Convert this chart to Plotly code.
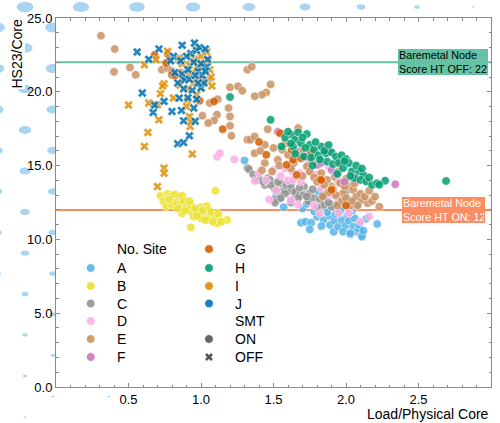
import plotly.graph_objects as go

# ---------------- data ----------------
sites = ["A", "B", "C", "D", "E", "F", "G", "H", "I", "J"]
site_colors = ["#56b4e9", "#ece133", "#949494", "#fbafe4", "#ca9161",
               "#cc78bc", "#d55e00", "#029e73", "#de8f05", "#0173b2"]
site_smt = ["ON", "ON", "ON", "ON", "ON", "ON", "ON", "ON", "OFF", "OFF"]
smt_levels = ["ON", "OFF"]
smt_symbols = {"ON": "circle", "OFF": "x"}

a_x = [1.30, 1.54, 1.57, 1.52, 1.62, 1.81, 1.86, 2.065, 2.08, 1.95, 1.99,
       1.69, 1.72, 1.76, 1.75, 1.80, 1.845, 1.885, 1.89, 1.915, 1.92, 1.945,
       1.93, 1.97, 1.995, 1.98, 2.01, 2.02, 2.03, 2.05, 2.075, 2.09, 2.11,
       2.06, 2.215, 1.83, 2.11, 2.03, 2.09, 2.12, 1.87, 1.96, 2.04, 1.78,
       1.70, 2.14, 1.90, 2.00, 1.60, 1.73]
a_y = [15.34, 12.76, 12.18, 13.0, 12.6, 13.24, 13.0, 12.67, 12.35, 12.5, 12.2,
       11.13, 11.2, 11.13, 10.68, 11.54, 11.31, 11.59, 10.98, 10.52, 11.27, 10.86,
       11.7, 11.32, 10.91, 10.52, 11.66, 11.27, 10.35, 10.86, 10.52, 10.68, 10.3,
       11.43, 11.05, 10.9, 10.18, 10.41, 11.0, 10.6, 11.85, 11.95, 11.9, 11.9,
       12.1, 11.4, 12.35, 12.9, 13.3, 12.4]

b_x = [0.72, 0.77, 0.80, 0.82, 0.85, 0.87, 0.74, 0.76, 0.80, 0.83, 0.86, 0.88,
       0.90, 0.91, 0.94, 0.98, 1.00, 1.04, 1.02, 1.06, 1.09, 1.115, 1.11, 1.08,
       1.18, 0.93, 0.87, 0.95, 1.00, 0.84, 0.93, 0.96, 1.05, 1.07, 1.12, 1.03,
       0.97, 0.89, 1.10, 0.78, 0.92, 1.14, 1.01]
b_y = [12.95, 13.08, 12.95, 13.05, 12.9, 12.95, 12.6, 12.22, 12.33, 12.5, 12.4, 12.6,
       12.22, 12.0, 11.77, 11.88, 12.18, 12.27, 11.66, 11.54, 11.66, 11.43, 11.09, 11.2,
       11.32, 10.82, 11.77, 11.54, 11.43, 12.1, 12.3, 12.1, 12.0, 11.85, 11.75, 11.3,
       11.6, 11.95, 13.3, 12.7, 12.6, 11.2, 11.95]

c_x = [1.32, 1.33, 1.39, 1.40, 1.44, 1.46, 1.475, 1.51, 1.51, 1.55, 1.56, 1.59,
       1.62, 1.65, 1.65, 1.68, 1.71, 1.71, 1.74, 1.75, 1.78, 1.82, 1.82, 1.85,
       1.80, 1.90, 1.505, 1.51, 1.94, 1.36, 1.43, 1.48, 1.53, 1.58, 1.62, 1.67,
       1.73, 1.77, 1.88, 1.95, 2.00, 1.55, 1.62, 1.68, 1.84]
c_y = [14.83, 14.76, 14.03, 14.15, 13.69, 14.15, 14.03, 13.47, 13.4, 13.81, 13.24, 13.63,
       13.3, 13.08, 13.24, 13.01, 13.58, 13.01, 12.56, 13.13, 12.79, 12.72, 12.18, 12.34,
       12.18, 12.22, 12.67, 12.49, 14.03, 14.4, 13.9, 13.7, 13.9, 13.1, 13.7, 12.8,
       12.9, 13.4, 12.5, 12.6, 13.3, 12.8, 12.5, 13.5, 13.0]

d_x = [1.11, 1.13, 1.23, 1.37, 1.40, 1.45, 1.50, 1.55, 1.58, 1.60, 1.62, 1.635,
       1.68, 1.67, 1.69, 1.75, 1.78, 1.80, 1.83, 1.82, 1.88, 1.90, 1.95, 1.95,
       1.98, 2.02, 2.05, 2.10, 2.12, 2.16, 1.52, 1.47, 1.63, 1.74, 1.93, 2.02]
d_y = [15.6, 15.84, 15.43, 13.96, 14.5, 14.0, 14.71, 14.3, 14.8, 14.0, 12.67, 14.03,
       14.5, 12.34, 13.92, 14.6, 12.3, 14.4, 13.5, 11.77, 14.9, 13.0, 13.9, 11.77,
       12.5, 12.0, 14.0, 11.2, 12.8, 11.55, 13.3, 12.7, 14.6, 15.2, 12.9, 11.77]

e_x = [0.31, 0.405, 0.40, 0.51, 0.55, 0.73, 0.77, 0.80, 0.86, 0.88, 1.00, 1.05,
       1.20, 1.255, 1.285, 1.115, 1.06, 1.19, 1.20, 1.11, 1.09, 1.01, 1.05, 1.20,
       1.21, 1.32, 1.32, 1.35, 1.48, 1.45, 1.42, 1.37, 0.99,
       1.46, 1.67, 1.34, 1.37, 1.44, 1.37, 1.44, 1.53, 1.56, 1.60, 1.64, 1.42,
       1.49, 1.73, 1.81, 1.83, 1.92, 1.96, 2.02, 2.05, 2.07, 2.11, 2.15, 2.23,
       1.98, 1.90, 1.87, 1.75, 1.78, 1.80, 1.85, 1.88, 1.93, 1.97, 2.00, 2.03,
       2.08, 2.10, 2.13, 2.18, 2.06, 2.00, 1.95, 1.69, 1.58, 1.50, 1.62, 1.70,
       1.76, 1.66, 1.91, 1.94, 2.16, 2.20, 1.84, 1.54, 1.41, 1.99, 2.04]
e_y = [23.8, 22.9, 21.35, 21.65, 21.15, 21.5, 21.6, 21.4, 21.3, 21.0, 21.4, 20.8,
       20.3, 20.37, 20.07, 19.5, 19.24, 18.9, 18.33, 18.45, 18.06, 18.38, 17.88, 17.7,
       17.02, 16.75, 21.5, 21.7, 20.5, 19.96, 19.8, 19.7, 20.9,
       17.47, 17.54, 16.75, 16.97, 16.41, 15.84, 15.17, 15.39, 16.07, 15.73, 15.17, 14.69,
       14.6, 14.94, 15.05, 14.49, 14.26, 13.81, 13.58, 13.35, 12.9, 12.67, 12.45, 12.22,
       13.13, 13.58, 14.03, 14.6, 14.2, 13.9, 13.7, 13.2, 13.0, 12.6, 12.8, 12.3,
       12.3, 13.1, 12.9, 12.6, 13.8, 14.1, 14.6, 16.0, 16.5, 16.2, 14.8, 14.3,
       15.4, 15.7, 13.4, 12.3, 13.3, 12.9, 12.9, 15.0, 16.0, 13.6, 12.6]

f_x = [1.53, 2.34, 1.80, 1.83, 1.97, 1.72, 1.90, 1.88, 2.05, 1.65, 1.93, 1.99]
f_y = [17.3, 13.74, 15.05, 15.2, 15.27, 15.6, 14.7, 15.9, 14.2, 16.0, 14.4, 13.9]

g_x = [0.68, 0.77, 0.76, 0.80, 0.82, 0.99, 1.09, 1.15, 1.545, 1.45, 1.59,
       1.625, 1.635, 1.69, 1.66, 1.82, 1.90, 1.83, 2.00, 1.40, 1.76]
g_y = [22.5, 22.56, 21.95, 21.16, 21.1, 19.4, 19.35, 17.47, 17.2, 15.73, 15.05,
       16.07, 15.39, 15.5, 14.37, 14.03, 13.35, 14.03, 12.3, 16.6, 15.9]

h_x = [1.20, 1.48, 1.625, 1.65, 1.67, 1.73, 1.635, 1.555, 1.69, 1.75, 1.78, 1.83,
       1.65, 1.71, 1.76, 1.81, 1.86, 1.90, 1.93, 1.97, 2.00, 1.87, 1.91, 1.95,
       2.02, 1.98, 2.04, 2.09, 2.12, 2.06, 2.10, 2.14, 2.18, 2.215, 2.27, 2.69,
       1.94, 1.58, 1.70, 1.79, 1.85, 1.88, 1.62, 1.72, 1.82, 1.99, 2.07, 2.11,
       2.16, 2.03, 1.60, 1.77, 2.23]
h_y = [19.65, 18.1, 17.09, 16.75, 17.25, 17.14, 16.29, 16.29, 16.52, 16.41, 16.07, 16.29,
       15.8, 15.61, 15.55, 15.7, 15.84, 15.9, 15.61, 15.7, 15.45, 15.27, 15.1, 15.17,
       15.17, 14.83, 14.6, 14.6, 14.37, 14.15, 14.03, 13.92, 13.69, 13.81, 13.98, 13.96,
       14.44, 16.9, 16.9, 16.6, 16.0, 16.4, 16.5, 16.2, 15.4, 15.3, 15.0, 14.8,
       14.2, 14.3, 17.3, 15.0, 13.7]

i_x = [0.50, 0.634, 0.61, 0.71, 0.64, 0.70, 0.72, 0.745, 0.735, 0.69, 0.61, 0.77,
       0.81, 0.745, 0.745, 0.70, 0.907, 0.92, 0.925, 0.93, 0.94, 0.90, 0.945, 1.00,
       0.855, 0.87, 0.92, 0.955, 0.965, 1.00, 1.04, 1.06, 1.07, 1.075, 0.98, 0.94,
       0.99, 0.96, 0.90, 1.02, 0.85, 0.93, 1.05, 0.91, 0.88, 0.97, 1.01]
i_y = [19.1, 17.25, 16.3, 18.1, 19.24, 19.12, 19.87, 20.55, 20.4, 22.18, 21.84, 22.74,
       19.58, 14.83, 14.49, 13.58, 19.42, 18.33, 17.65, 17.95, 15.78, 19.0, 20.55, 20.3,
       20.45, 21.9, 21.8, 22.2, 22.9, 22.4, 22.7, 21.5, 21.0, 20.4, 21.6, 21.3,
       21.0, 20.8, 21.2, 20.7, 22.3, 22.5, 22.1, 20.2, 20.9, 19.8, 21.9]

j_x = [0.56, 0.71, 0.595, 0.68, 0.67, 0.745, 0.80, 0.85, 0.865, 0.88, 0.84, 0.88,
       0.92, 0.87, 0.955, 0.97, 0.81, 0.82, 0.87, 0.885, 0.92, 0.88, 0.94, 1.00,
       1.02, 1.04, 1.045, 1.00, 0.98, 1.01, 0.93, 0.95, 0.90, 0.86, 0.97, 0.99,
       1.03, 0.91, 0.96, 0.84, 0.64, 0.79, 0.96, 0.95, 0.91, 1.03, 0.98]
j_y = [22.7, 22.9, 19.92, 19.1, 18.6, 19.35, 18.67, 19.58, 18.74, 18.04, 16.48, 16.56,
       17.02, 23.15, 23.3, 19.5, 22.4, 21.3, 21.2, 20.8, 20.85, 20.2, 20.1, 20.25,
       20.6, 21.7, 22.2, 21.9, 21.4, 21.1, 22.6, 22.0, 22.4, 22.1, 22.8, 23.0,
       22.9, 21.5, 21.1, 20.6, 22.2, 22.1, 18.0, 18.9, 19.6, 21.4, 20.6]

site_x = [a_x, b_x, c_x, d_x, e_x, f_x, g_x, h_x, i_x, j_x]
site_y = [a_y, b_y, c_y, d_y, e_y, f_y, g_y, h_y, i_y, j_y]

baselines = [22, 12]
baseline_labels = ["Baremetal Node<br>Score HT OFF: 22", "Baremetal Node<br>Score HT ON: 12"]
baseline_colors = ["#66c2a5", "#fc8d62"]
baseline_text_colors = ["black", "white"]

x_ticks = [0.5, 1.0, 1.5, 2.0, 2.5, 3.0]
y_ticks = [0, 5, 10, 15, 20, 25]

# ---------------- layout constants (pixels) ----------------
W, H = 500, 423
ML, MR, MT, MB = 56, 9, 18, 36
PW, PH = W - ML - MR, H - MT - MB
FONT = "Liberation Sans, Arial, Helvetica, sans-serif"
GREY_AX = "#8a8a8a"


def paper_x(px):
    return (px - ML) / PW


def paper_y(py):
    return (H - MB - py) / PH


fig = go.Figure()

# data points
for s, col, smt, xs, ys in zip(sites, site_colors, site_smt, site_x, site_y):
    fig.add_trace(go.Scatter(
        x=xs, y=ys, mode="markers", showlegend=False, name=s,
        marker=dict(color=col, size=8.5 if smt == "ON" else 8, opacity=0.85,
                    symbol=smt_symbols[smt],
                    line=dict(color="white", width=0.6))))

shapes = []
annotations = []

# background decoration (light ellipses in the margins)
for k in range(0, 20):
    cx = -3 + 28 * k
    cy = 7 if k % 2 else 27.5
    while cy < H + 10:
        w = 17 * (1 - (cx / 520.0) ** 2) - 0.034 * cy
        inside = (ML + w / 2 < cx < W - MR - w / 2) and (MT + w < cy < H - MB - w)
        if w >= 2.5 and not inside:
            h = 0.62 * w
            shapes.append(dict(type="circle", xref="paper", yref="paper", layer="below",
                               x0=paper_x(cx - w / 2), x1=paper_x(cx + w / 2),
                               y0=paper_y(cy + h / 2), y1=paper_y(cy - h / 2),
                               fillcolor="#a9d5f1", line=dict(width=0)))
        cy += 41
shapes.append(dict(type="rect", xref="paper", yref="paper", layer="below",
                   x0=0, x1=1, y0=0, y1=1, fillcolor="white", line=dict(width=0)))

# baseline lines + labels
for yv, col in zip(baselines, baseline_colors):
    shapes.append(dict(type="line", xref="paper", yref="y", layer="below",
                       x0=0, x1=1, y0=yv, y1=yv, line=dict(color=col, width=2)))
for yv, txt, col, tcol, bw, bx in zip(baselines, baseline_labels, baseline_colors,
                                      baseline_text_colors, [88, 81], [398, 402]):
    annotations.append(dict(x=paper_x(bx), xref="paper",
                            y=yv, yref="y", text=txt, width=bw, height=24,
                            showarrow=False, xanchor="left", yanchor="middle", align="left",
                            bgcolor=col, borderpad=1, borderwidth=0,
                            font=dict(family=FONT, size=10.8, color=tcol)))

# axis titles
annotations.append(dict(x=1.0, xref="paper", y=paper_y(413.5), yref="paper",
                        text="Load/Physical Core", showarrow=False,
                        xanchor="right", yanchor="middle",
                        font=dict(family=FONT, size=14, color="black")))
annotations.append(dict(x=paper_x(16), xref="paper", y=paper_y(19), yref="paper",
                        text="HS23/Core", showarrow=False, textangle=-90,
                        xanchor="center", yanchor="top", bgcolor="white", borderpad=0,
                        font=dict(family=FONT, size=14, color="black")))

# legend (two columns, drawn as text + marker glyphs)
row_y = [249, 268, 286, 303.5, 321, 339, 357]
col1 = ["No. Site"] + sites[:6]
col2 = sites[6:] + ["SMT"] + smt_levels
col_marker_x = [90.7, 209]
col_text_x = [115, 233]
site_color_map = dict(zip(sites, site_colors))
for ci, entries in enumerate([col1, col2]):
    for ri, lab in enumerate(entries):
        py = row_y[ri]
        annotations.append(dict(x=paper_x(col_text_x[ci]), xref="paper",
                                y=paper_y(py), yref="paper", text=lab, showarrow=False,
                                xanchor="left", yanchor="middle", align="left",
                                font=dict(family=FONT, size=14, color="black")))
        mx, my = paper_x(col_marker_x[ci]), paper_y(py)
        if lab in site_color_map or lab == "ON":
            fc = site_color_map.get(lab, "#555555")
            shapes.append(dict(type="circle", xref="paper", yref="paper",
                               xsizemode="pixel", ysizemode="pixel",
                               xanchor=mx, yanchor=my, x0=-4.3, x1=4.3, y0=-4.3, y1=4.3,
                               fillcolor=fc, opacity=0.9,
                               line=dict(color="white", width=0.6)))
        elif lab == "OFF":
            shapes.append(dict(type="path", xref="paper", yref="paper",
                               xsizemode="pixel", ysizemode="pixel",
                               xanchor=mx, yanchor=my,
                               path="M-3,-3 L3,3 M-3,3 L3,-3",
                               line=dict(color="#555555", width=2.6)))

axis_common = dict(showline=True, linecolor=GREY_AX, linewidth=1, mirror="ticks",
                   ticks="inside", tickcolor=GREY_AX, ticklen=4, showgrid=False,
                   zeroline=False, tickfont=dict(family=FONT, size=13, color="black"))

fig.update_layout(
    width=W, height=H,
    margin=dict(l=ML, r=MR, t=MT, b=MB, autoexpand=False),
    paper_bgcolor="white", plot_bgcolor="rgba(0,0,0,0)",
    font=dict(family=FONT, size=14, color="black"),
    showlegend=False,
    xaxis=dict(range=[0, 3.0], tickmode="array", tickvals=x_ticks,
               ticktext=[f"{v:.1f}" for v in x_ticks],
               minor=dict(dtick=0.1, tick0=0, ticks="inside", ticklen=2.5,
                          tickcolor=GREY_AX, showgrid=False),
               **axis_common),
    yaxis=dict(range=[0, 25], tickmode="array", tickvals=y_ticks,
               ticktext=[f"{v:.1f}" for v in y_ticks],
               minor=dict(dtick=1, tick0=0, ticks="inside", ticklen=2.5,
                          tickcolor=GREY_AX, showgrid=False),
               **axis_common),
    shapes=shapes,
    annotations=annotations,
)

fig.write_html("out.html", config={"displayModeBar": False},
               post_script="document.body.style.margin='0';")
